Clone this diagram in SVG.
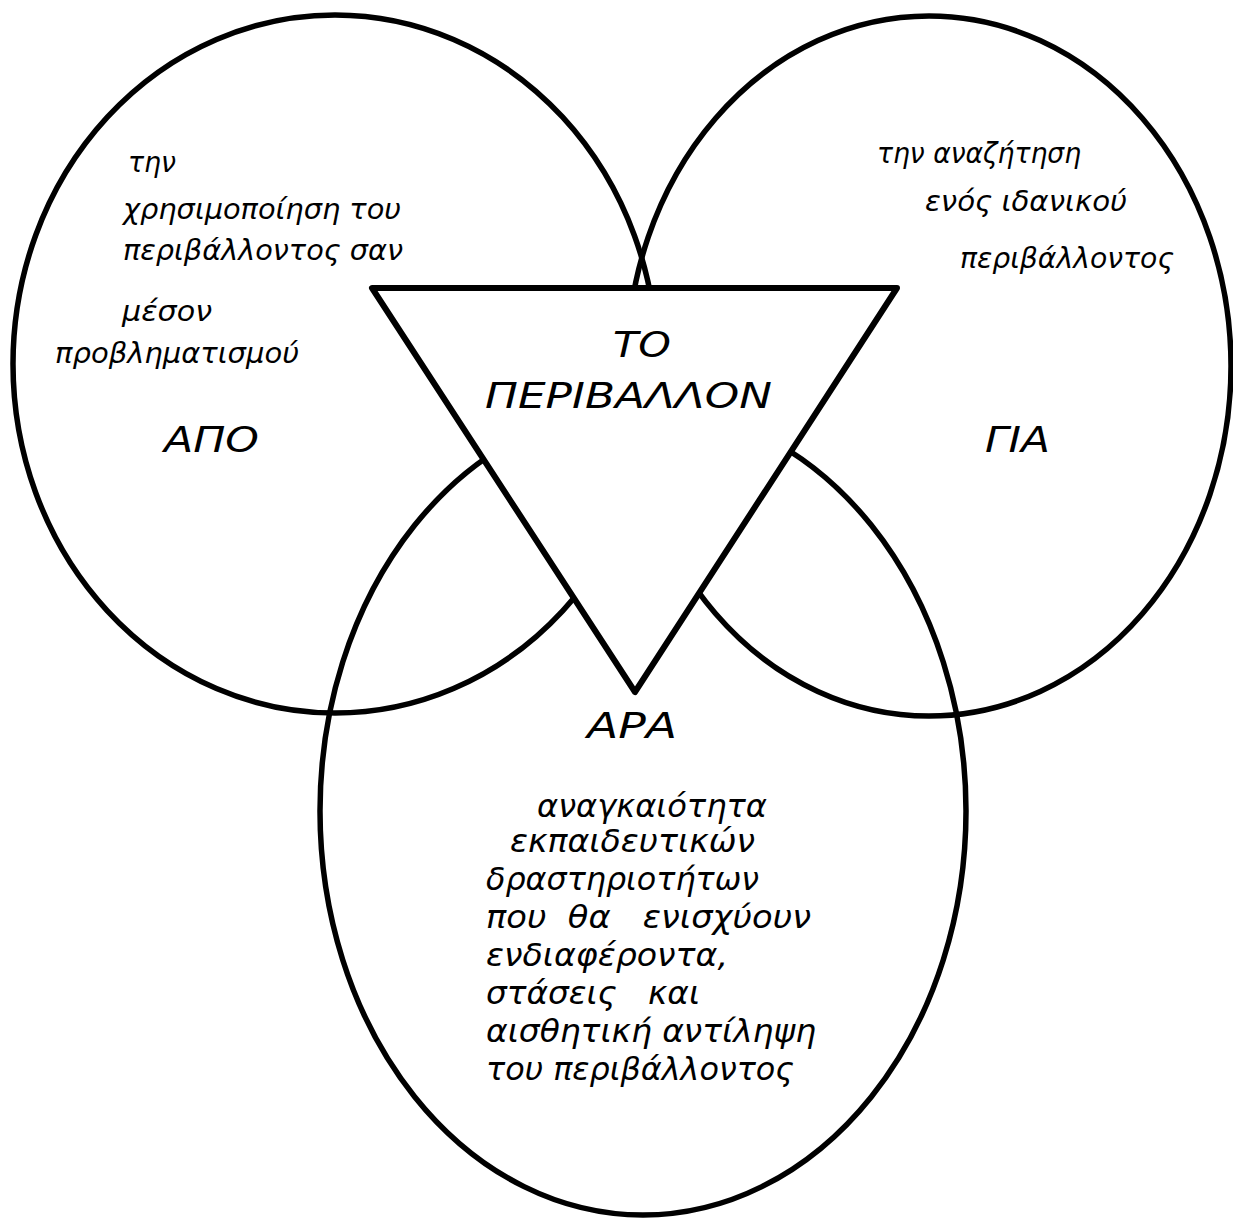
<svg xmlns="http://www.w3.org/2000/svg" width="1233" height="1218" viewBox="0 0 1233 1218">
<style>
.ring{fill:none;stroke:#000;stroke-width:5.5}
.tri{fill:#fff;stroke:#000;stroke-width:6;stroke-linejoin:round}
text{font-family:"DejaVu Sans","Verdana","Liberation Sans",sans-serif;font-style:italic;fill:#000}
.s{font-size:28.5px}
.b{font-size:31px}
.c{font-size:36px}
</style>
<rect x="0" y="0" width="1233" height="1218" fill="#fff"/>
<g id="node-apo">
<ellipse class="ring" cx="335" cy="364" rx="322" ry="349"/>
<text class="s" x="128" y="172" textLength="48" lengthAdjust="spacingAndGlyphs">την</text>
<text class="s" x="123" y="219" textLength="278" lengthAdjust="spacingAndGlyphs">χρησιμοποίηση του</text>
<text class="s" x="123" y="260" textLength="280" lengthAdjust="spacingAndGlyphs">περιβάλλοντος σαν</text>
<text class="s" x="122" y="321" textLength="90" lengthAdjust="spacingAndGlyphs">μέσον</text>
<text class="s" x="55" y="363" textLength="244" lengthAdjust="spacingAndGlyphs">προβληματισμού</text>
<text class="c" x="164" y="452" textLength="95" lengthAdjust="spacingAndGlyphs">ΑΠΟ</text>
</g>
<g id="node-gia">
<ellipse class="ring" cx="929" cy="366" rx="302" ry="350"/>
<text class="s" x="877" y="163" textLength="204" lengthAdjust="spacingAndGlyphs">την αναζήτηση</text>
<text class="s" x="925" y="211" textLength="202" lengthAdjust="spacingAndGlyphs">ενός ιδανικού</text>
<text class="s" x="960" y="268" textLength="214" lengthAdjust="spacingAndGlyphs">περιβάλλοντος</text>
<text class="c" x="985" y="452" textLength="65" lengthAdjust="spacingAndGlyphs">ΓΙΑ</text>
</g>
<g id="node-ara">
<ellipse class="ring" cx="643" cy="811" rx="323" ry="404"/>
<text class="c" x="587" y="738" textLength="90" lengthAdjust="spacingAndGlyphs">ΑΡΑ</text>
<text class="b" x="537" y="817" textLength="230" lengthAdjust="spacingAndGlyphs">αναγκαιότητα</text>
<text class="b" x="510" y="852" textLength="245" lengthAdjust="spacingAndGlyphs">εκπαιδευτικών</text>
<text class="b" x="486" y="890" textLength="273" lengthAdjust="spacingAndGlyphs">δραστηριοτήτων</text>
<text class="b" x="486" y="928" textLength="325" lengthAdjust="spacingAndGlyphs" xml:space="preserve">που  θα   ενισχύουν</text>
<text class="b" x="486" y="966" textLength="242" lengthAdjust="spacingAndGlyphs">ενδιαφέροντα,</text>
<text class="b" x="486" y="1004" textLength="214" lengthAdjust="spacingAndGlyphs" xml:space="preserve">στάσεις   και</text>
<text class="b" x="486" y="1042" textLength="330" lengthAdjust="spacingAndGlyphs">αισθητική αντίληψη</text>
<text class="b" x="486" y="1080" textLength="308" lengthAdjust="spacingAndGlyphs">του περιβάλλοντος</text>
</g>
<g id="node-center">
<polygon class="tri" points="372,288 897,288 635,692"/>
<text class="c" x="613" y="357" textLength="58" lengthAdjust="spacingAndGlyphs">ΤΟ</text>
<text class="c" x="485" y="408" textLength="287" lengthAdjust="spacingAndGlyphs">ΠΕΡΙΒΑΛΛΟΝ</text>
</g>
<g id="connectors"></g>
</svg>
